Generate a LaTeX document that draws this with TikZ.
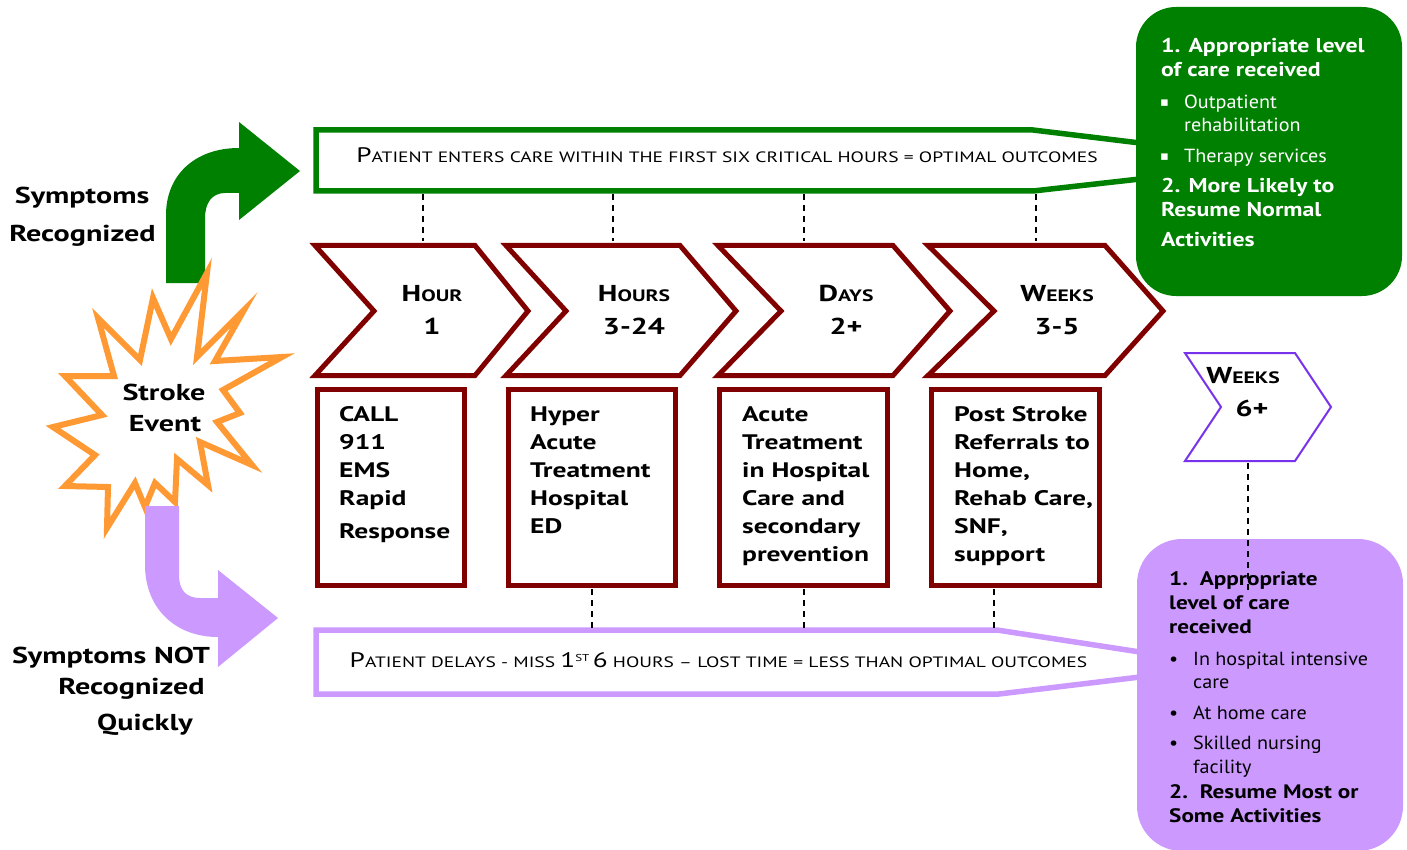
\documentclass[tikz,border=0pt]{standalone}
\usepackage{fontspec}
\setmainfont{PT Sans}
\newfontfamily\dejavu{DejaVu Sans}
\newfontfamily\fA{PT Sans}[FakeStretch=1.31]
\newfontfamily\fB{PT Sans}[FakeStretch=1.19]
\newfontfamily\fC{PT Sans}[FakeStretch=1.06]
\newfontfamily\fD{PT Sans}[FakeStretch=1.30]
\definecolor{ggreen}{RGB}{0,128,0}
\definecolor{dred}{RGB}{128,0,0}
\definecolor{lav}{RGB}{204,153,255}
\definecolor{starorange}{RGB}{255,153,51}
\definecolor{hexpurple}{RGB}{120,50,235}
\newcommand\chB{\fontsize{23}{23}\selectfont}
\newcommand\chS{\fontsize{16.5}{16.5}\selectfont}
\newcommand\bnB{\fontsize{21}{21}\selectfont}
\newcommand\bnS{\fontsize{15}{15}\selectfont}
\begin{document}
\begin{tikzpicture}[x=1pt,y=-1pt,
  dashline/.style={draw=black,line width=1.4pt,dash pattern=on 6pt off 5pt},
  chev/.style={draw=dred,line width=5pt,fill=white,line join=miter},
  redbox/.style={draw=dred,line width=5pt,fill=white,rectangle,inner sep=0pt},
  boxtxt/.style={anchor=base west,inner sep=0pt,font=\fA\fontsize{21}{21}\selectfont\bfseries},
  lbl/.style={anchor=base,inner sep=0pt,font=\fA\fontsize{23}{23}\selectfont\bfseries},
  chtxt/.style={anchor=base,inner sep=0pt,font=\fA\bfseries},
  gbold/.style={anchor=base west,inner sep=0pt,text=white,font=\fB\fontsize{20}{20}\selectfont\bfseries},
  greg/.style={anchor=base west,inner sep=0pt,text=white,font=\fC\fontsize{19}{19}\selectfont},
  pbold/.style={anchor=base west,inner sep=0pt,text=black,font=\fB\fontsize{19.5}{19.5}\selectfont\bfseries},
  preg/.style={anchor=base west,inner sep=0pt,text=black,font=\fC\fontsize{19}{19}\selectfont},
  bantxt/.style={anchor=base,inner sep=0pt,font=\fD}
]
\useasboundingbox (0,0) rectangle (1407,850);

% banners
\draw[ggreen,line width=5.5pt,line join=miter] (1140,143) -- (1033,130) -- (316,130) -- (316,191) -- (1033,191) -- (1140,179);
\draw[lav,line width=5.5pt,line join=miter] (1140,652) -- (997,630) -- (316,630) -- (316,694) -- (999,694) -- (1140,677);
\node[bantxt] (toptext) at (727,163) {{\bnB P}{\bnS ATIENT ENTERS CARE WITHIN THE FIRST SIX CRITICAL HOURS = OPTIMAL OUTCOMES}};
\node[bantxt] (bottext) at (718.5,667) {{\bnB P}{\bnS ATIENT DELAYS - MISS }{\bnB 1}\raisebox{6pt}{\fontsize{10}{10}\selectfont ST} {\bnB 6}{\bnS{} HOURS – LOST TIME = LESS THAN OPTIMAL OUTCOMES}};

% callouts
\node[fill=ggreen,rounded corners=40pt,minimum width=266pt,minimum height=289pt,inner sep=0pt] (gcall) at (1269,151.5) {};
\node[fill=lav,rounded corners=45pt,minimum width=266pt,minimum height=312pt,inner sep=0pt] (pcall) at (1270,695) {};

\node[gbold] (g1) at (1161,53) {1. Appropriate level};
\node[gbold] (g2) at (1161,77) {of care received};
\node[greg] (gb1) at (1160,107) {{\dejavu\fontsize{13}{13}\selectfont ▪}};
\node[greg] (g3) at (1184,109) {Outpatient};
\node[greg] (g4) at (1184,132) {rehabilitation};
\node[greg] (gb2) at (1160,161) {{\dejavu\fontsize{13}{13}\selectfont ▪}};
\node[greg] (g5) at (1184,163) {Therapy services};
\node[gbold] (g6) at (1161,193) {2. More Likely to};
\node[gbold] (g7) at (1161,217) {Resume Normal};
\node[gbold] (g8) at (1161,247) {Activities};

\node[pbold] (p1) at (1169,585) {1.\ \ Appropriate};
\node[pbold] (p2) at (1169,609) {level of care};
\node[pbold] (p3) at (1169,633) {received};
\node[preg] (pb1) at (1169,665) {•};
\node[preg] (p4) at (1193,665) {In hospital intensive};
\node[preg] (p5) at (1193,688) {care};
\node[preg] (pb2) at (1169,719) {•};
\node[preg] (p6) at (1193,719) {At home care};
\node[preg] (pb3) at (1169,749) {•};
\node[preg] (p7) at (1193,749) {Skilled nursing};
\node[preg] (p8) at (1193,773) {facility};
\node[pbold] (p9) at (1169,798) {2.\ \ Resume Most or};
\node[pbold] (p10) at (1169,822) {Some Activities};

% chevrons
\draw[chev] (315,245.5) -- (475,245.5) -- (528,311) -- (475,375.5) -- (315,375.5) -- (374,311) -- cycle;
\draw[chev] (506,245.5) -- (680,245.5) -- (736,311) -- (680,375.5) -- (506,375.5) -- (566,311) -- cycle;
\draw[chev] (718,245.5) -- (893,245.5) -- (950,311) -- (893,375.5) -- (718,375.5) -- (781,311) -- cycle;
\draw[chev] (928,245.5) -- (1105,245.5) -- (1163,311) -- (1105,375.5) -- (928,375.5) -- (994,311) -- cycle;
\node[chtxt] (c1a) at (432,301) {{\chB H}{\chS OUR}};
\node[chtxt] (c1b) at (432,334) {\chB 1};
\node[chtxt] (c2a) at (634,301) {{\chB H}{\chS OURS}};
\node[chtxt] (c2b) at (634,334) {\chB 3-24};
\node[chtxt] (c3a) at (846,301) {{\chB D}{\chS AYS}};
\node[chtxt] (c3b) at (846,334) {\chB 2+};
\node[chtxt] (c4a) at (1057,301) {{\chB W}{\chS EEKS}};
\node[chtxt] (c4b) at (1057,334) {\chB 3-5};

% hexagon weeks 6+
\draw[hexpurple,line width=2pt,fill=white] (1185,353) -- (1295,353) -- (1331,407) -- (1295,461) -- (1185,461) -- (1221,407) -- cycle;
\node[chtxt] (h1) at (1243,383) {{\chB W}{\chS EEKS}};
\node[chtxt] (h2) at (1252,416) {\chB 6+};

% boxes
\node[redbox,minimum width=147.5pt,minimum height=196pt] (b1) at (390.75,487.5) {};
\node[redbox,minimum width=167pt,minimum height=196pt] (b2) at (591.5,487.5) {};
\node[redbox,minimum width=168pt,minimum height=196pt] (b3) at (803.5,487.5) {};
\node[redbox,minimum width=168pt,minimum height=196pt] (b4) at (1015.5,487.5) {};
\foreach \t [count=\i] in {CALL,911,EMS,Rapid}
  \node[boxtxt] (b1t\i) at (339,{421.7+28*(\i-1)}) {\t};
\node[boxtxt] (b1t5) at (339,538) {Response};
\foreach \t [count=\i] in {Hyper,Acute,Treatment,Hospital,ED}
  \node[boxtxt] (b2t\i) at (530,{421.7+28*(\i-1)}) {\t};
\foreach \t [count=\i] in {Acute,Treatment,in Hospital,Care and,secondary,prevention}
  \node[boxtxt] (b3t\i) at (742,{421.7+28*(\i-1)}) {\t};
\foreach \t [count=\i] in {Post Stroke,Referrals to,{Home,},{Rehab Care,},{SNF,},support}
  \node[boxtxt] (b4t\i) at (954,{421.7+28*(\i-1)}) {\t};

% dashed connectors
\foreach \x [count=\i] in {423,613,804,1036} {
  \coordinate (tu\i) at (\x,194);
  \coordinate (td\i) at (\x,241);
  \draw[dashline] (tu\i) -- (td\i);
}
\foreach \x [count=\i] in {592,804,994} {
  \coordinate (bu\i) at (\x,589);
  \coordinate (bd\i) at (\x,628);
  \draw[dashline] (bu\i) -- (bd\i);
}
\coordinate (hx) at (1248,463);
\coordinate (px) at (1248,590);
\draw[dashline] (hx) -- (px);

% arrows and star
\fill[ggreen] (166,283) -- (166,215) .. controls (166,175) and (195,148) .. (239,148) -- (239,122) -- (300,171) -- (239,220) -- (239,193) -- (225,193) .. controls (212,193) and (205,203) .. (205,218) -- (205,283) -- cycle;
\draw[starorange,line width=6pt,fill=white,line join=miter] (207,273) -- (197,357) -- (244,310) -- (215,361) -- (282,357) -- (223,390) -- (240,413) -- (217,422) -- (252,465) -- (200,442) -- (208,485) -- (177,459) -- (175,502) -- (155,483) -- (145,507) -- (135,483) -- (107,528) -- (108,487) -- (65,486) -- (95,455) -- (53,427) -- (102,415) -- (65,376) -- (114,376) -- (98,318) -- (140,360) -- (153,298) -- (171,339) -- cycle;
\fill[lav] (145,506) -- (145,565) .. controls (145,608) and (175,637) .. (218,637) -- (218,667) -- (278,618) -- (218,570) -- (218,598) -- (200,598) .. controls (186,598) and (179,590) .. (179,575) -- (179,506) -- cycle;

\node[lbl] (se1) at (164,400) {Stroke};
\node[lbl] (se2) at (165,431.7) {Event};
\node[lbl] (sr1) at (82,204) {Symptoms};
\node[lbl] (sr2) at (82.5,241.7) {Recognized};
\node[lbl] (sn1) at (111,663) {Symptoms NOT};
\node[lbl] (sn2) at (131.5,694) {Recognized};
\node[lbl] (sn3) at (145,730) {Quickly};
\end{tikzpicture}
\end{document}
